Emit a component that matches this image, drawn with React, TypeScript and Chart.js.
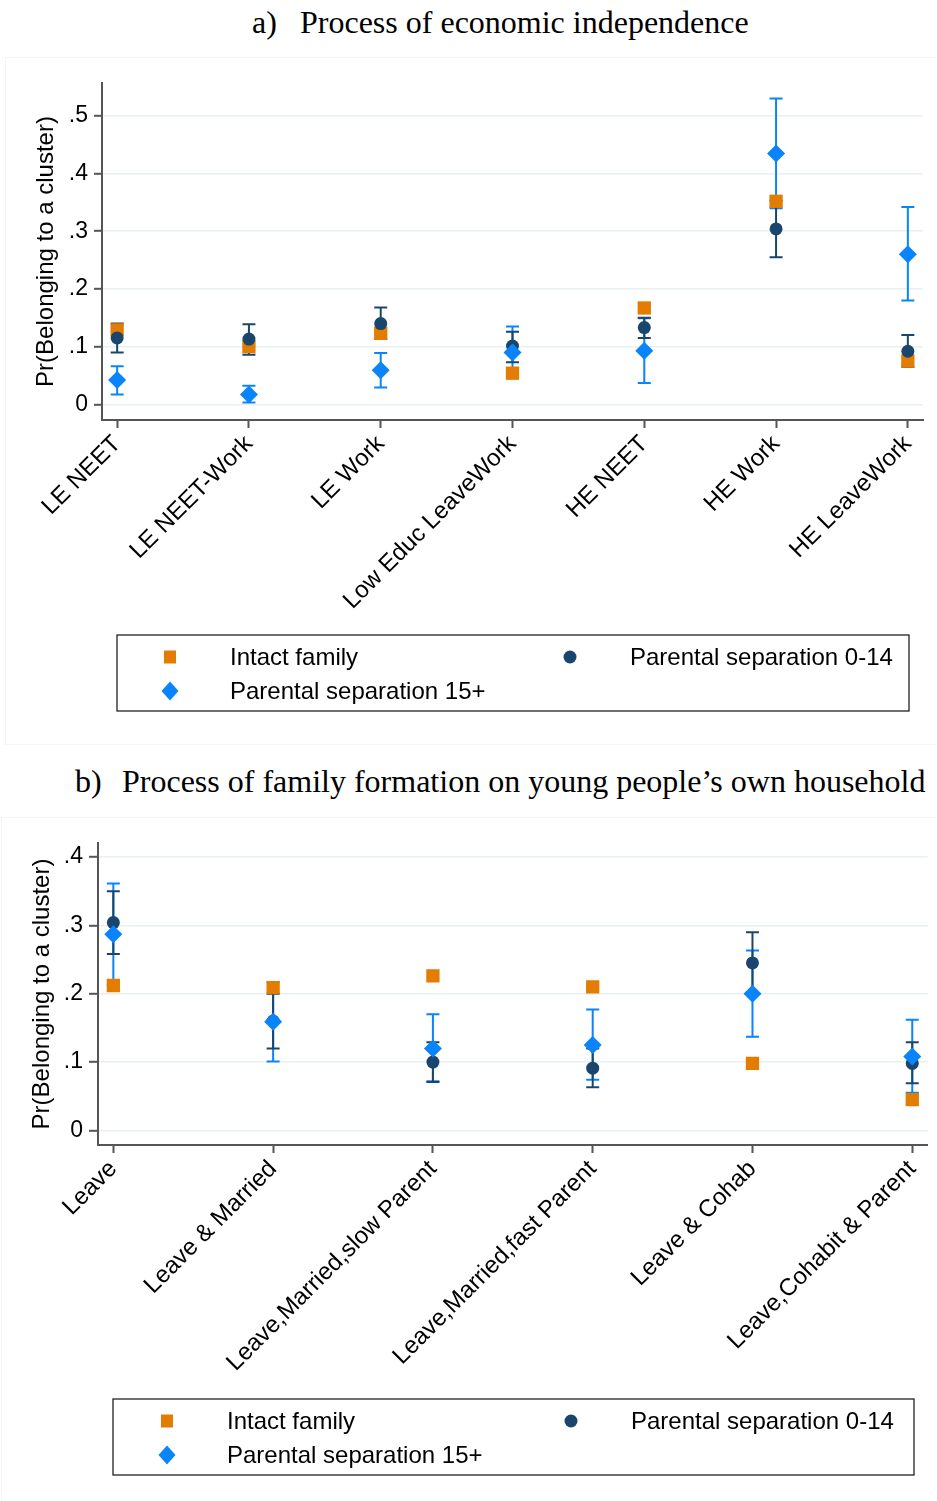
import React, { useEffect, useRef } from 'react';
import { Chart, registerables } from 'chart.js';

Chart.register(...registerables);

// ---------- Data: panel a) ----------
const catsA = ['LE NEET', 'LE NEET-Work', 'LE Work', 'Low Educ LeaveWork', 'HE NEET', 'HE Work', 'HE LeaveWork'];
const intactA = [0.129, 0.100, 0.123, 0.054, 0.167, 0.352, 0.075];
const sep014A = [0.115, 0.113, 0.140, 0.101, 0.133, 0.304, 0.092];
const sep014LoA = [0.090, 0.086, 0.113, 0.073, 0.115, 0.255, 0.065];
const sep014HiA = [0.140, 0.139, 0.168, 0.126, 0.150, 0.353, 0.120];
const sep15A = [0.042, 0.017, 0.059, 0.090, 0.093, 0.435, 0.260];
const sep15LoA = [0.017, 0.003, 0.029, 0.045, 0.037, 0.340, 0.180];
const sep15HiA = [0.066, 0.032, 0.089, 0.135, 0.149, 0.530, 0.342];
const yTicksA = [0, 0.1, 0.2, 0.3, 0.4, 0.5];
const yLabelsA = ['0', '.1', '.2', '.3', '.4', '.5'];

// ---------- Data: panel b) ----------
const catsB = ['Leave', 'Leave & Married', 'Leave,Married,slow Parent', 'Leave,Married,fast Parent', 'Leave & Cohab', 'Leave,Cohabit & Parent'];
const intactB = [0.212, 0.209, 0.226, 0.210, 0.098, 0.045];
const sep014B = [0.304, 0.160, 0.100, 0.091, 0.245, 0.098];
const sep014LoB = [0.258, 0.120, 0.071, 0.063, 0.200, 0.069];
const sep014HiB = [0.350, 0.200, 0.129, 0.120, 0.290, 0.129];
const sep15B = [0.287, 0.159, 0.120, 0.125, 0.200, 0.108];
const sep15LoB = [0.213, 0.101, 0.072, 0.074, 0.137, 0.055];
const sep15HiB = [0.361, 0.217, 0.170, 0.177, 0.263, 0.162];
const yTicksB = [0, 0.1, 0.2, 0.3, 0.4];
const yLabelsB = ['0', '.1', '.2', '.3', '.4'];

const seriesNames = ['Intact family', 'Parental separation 0-14', 'Parental separation 15+'];
const titleA = ['a)', 'Process of economic independence'];
const titleB = ['b)', 'Process of family formation on young people\u2019s own household'];
const yTitle = 'Pr(Belonging to a cluster)';

const ORANGE = '#e27d02';
const NAVY = '#1a466e';
const BLUE = '#0a84fb';
const SANS = "'Liberation Sans', Arial, sans-serif";
const SERIF = "'Liberation Serif', 'Times New Roman', serif";

function makeErrorBars(bars: { lo: number[]; hi: number[]; color: string }[]) {
  return {
    id: 'errbars',
    beforeDatasetsDraw(chart: any) {
      const { ctx } = chart;
      const xs = chart.scales.x;
      const ys = chart.scales.y;
      ctx.save();
      ctx.lineWidth = 2;
      for (const b of bars) {
        ctx.strokeStyle = b.color;
        b.lo.forEach((lo, i) => {
          const px = xs.getPixelForValue(i);
          const pl = ys.getPixelForValue(lo);
          const ph = ys.getPixelForValue(b.hi[i]);
          ctx.beginPath();
          ctx.moveTo(px, pl);
          ctx.lineTo(px, ph);
          ctx.moveTo(px - 6.5, pl);
          ctx.lineTo(px + 6.5, pl);
          ctx.moveTo(px - 6.5, ph);
          ctx.lineTo(px + 6.5, ph);
          ctx.stroke();
        });
      }
      ctx.restore();
    },
  };
}

function drawMarker(ctx: CanvasRenderingContext2D, kind: string, x: number, y: number, color: string) {
  ctx.fillStyle = color;
  ctx.beginPath();
  if (kind === 'rect') {
    ctx.rect(x - 6, y - 6.5, 12, 13);
  } else if (kind === 'circle') {
    ctx.arc(x, y, 6.5, 0, Math.PI * 2);
  } else {
    ctx.moveTo(x, y - 9.5);
    ctx.lineTo(x + 8.5, y);
    ctx.lineTo(x, y + 9.5);
    ctx.lineTo(x - 8.5, y);
    ctx.closePath();
  }
  ctx.fill();
}

function makeLegend(box: { l: number; t: number; r: number; b: number }, items: { kind: string; color: string; text: string; mx: number; tx: number; y: number }[]) {
  return {
    id: 'customLegend',
    afterDraw(chart: any) {
      const { ctx } = chart;
      ctx.save();
      ctx.strokeStyle = '#222';
      ctx.lineWidth = 1.3;
      ctx.strokeRect(box.l, box.t, box.r - box.l, box.b - box.t);
      ctx.font = `24px ${SANS}`;
      ctx.textBaseline = 'middle';
      ctx.textAlign = 'left';
      for (const it of items) {
        drawMarker(ctx, it.kind, it.mx, it.y, it.color);
        ctx.fillStyle = '#000';
        ctx.fillText(it.text, it.tx, it.y + 1);
      }
      ctx.restore();
    },
  };
}

function buildConfig(p: {
  cats: string[];
  intact: number[];
  s014: number[];
  s15: number[];
  lo014: number[];
  hi014: number[];
  lo15: number[];
  hi15: number[];
  yTicks: number[];
  yLabels: string[];
  xPad: number;
  yMin: number;
  yMax: number;
  top: number;
  right: number;
  yWidth: number;
  xHeight: number;
  titlePad: number;
  tickLen: number;
  legendBox: { l: number; t: number; r: number; b: number };
  legendItems: any[];
}) {
  const n = p.cats.length;
  const toPts = (arr: number[]) => arr.map((v, i) => ({ x: i, y: v }));
  return {
    type: 'scatter',
    data: {
      datasets: [
        { label: seriesNames[0], data: toPts(p.intact), pointStyle: 'rect', pointRadius: 9.4, backgroundColor: ORANGE, borderColor: ORANGE, borderWidth: 0, order: 3 },
        { label: seriesNames[1], data: toPts(p.s014), pointStyle: 'circle', pointRadius: 6.5, backgroundColor: NAVY, borderColor: NAVY, borderWidth: 0, order: 2 },
        { label: seriesNames[2], data: toPts(p.s15), pointStyle: 'rectRot', pointRadius: 9, backgroundColor: BLUE, borderColor: BLUE, borderWidth: 0, order: 1 },
      ],
    },
    options: {
      animation: false,
      responsive: false,
      devicePixelRatio: 1,
      layout: { padding: { top: p.top, right: p.right, left: 0, bottom: 0 } },
      plugins: { legend: { display: false }, tooltip: { enabled: false } },
      scales: {
        x: {
          type: 'linear',
          min: -p.xPad,
          max: n - 1 + p.xPad,
          afterBuildTicks: (s: any) => {
            s.ticks = p.cats.map((_, i) => ({ value: i }));
          },
          afterFit: (s: any) => {
            s.height = p.xHeight;
          },
          ticks: {
            callback: (_v: any, i: number) => p.cats[i],
            minRotation: 45,
            maxRotation: 45,
            autoSkip: false,
            color: '#000',
            padding: 2,
            font: { family: SANS, size: 24 },
          },
          grid: { drawOnChartArea: false, drawTicks: true, tickLength: 8, tickColor: '#555', tickWidth: 2 },
          border: { color: '#555', width: 2 },
        },
        y: {
          min: p.yMin,
          max: p.yMax,
          afterBuildTicks: (s: any) => {
            s.ticks = p.yTicks.map((v) => ({ value: v }));
          },
          afterFit: (s: any) => {
            s.width = p.yWidth;
          },
          ticks: {
            callback: (_v: any, i: number) => p.yLabels[i],
            color: '#000',
            padding: 6,
            font: { family: SANS, size: 23 },
          },
          grid: { color: '#e8f0f2', lineWidth: 1.6, drawTicks: true, tickLength: p.tickLen, tickColor: '#555', tickWidth: 2 },
          border: { color: '#555', width: 2 },
          title: {
            display: true,
            text: yTitle,
            color: '#000',
            font: { family: SANS, size: 24 },
            padding: { top: p.titlePad, bottom: 0 },
          },
        },
      },
    },
    plugins: [
      makeErrorBars([
        { lo: p.lo15, hi: p.hi15, color: BLUE },
        { lo: p.lo014, hi: p.hi014, color: NAVY },
      ]),
      makeLegend(p.legendBox, p.legendItems),
    ],
  };
}

function ChartCanvas({ config, width, height, top }: { config: any; width: number; height: number; top: number }) {
  const ref = useRef<HTMLCanvasElement | null>(null);
  useEffect(() => {
    if (!ref.current) return;
    const chart = new Chart(ref.current, config);
    return () => chart.destroy();
  }, [config]);
  return (
    <canvas
      ref={ref}
      width={width}
      height={height}
      style={{ position: 'absolute', left: 0, top, width, height }}
    />
  );
}

const configA = buildConfig({
  cats: catsA,
  intact: intactA,
  s014: sep014A,
  s15: sep15A,
  lo014: sep014LoA,
  hi014: sep014HiA,
  lo15: sep15LoA,
  hi15: sep15HiA,
  yTicks: yTicksA,
  yLabels: yLabelsA,
  xPad: 0.115,
  yMin: -0.0272,
  yMax: 0.557,
  top: 26,
  right: 14,
  yWidth: 102,
  xHeight: 325,
  titlePad: 32,
  tickLen: 8,
  legendBox: { l: 117, t: 578, r: 909, b: 654 },
  legendItems: [
    { kind: 'rect', color: ORANGE, text: seriesNames[0], mx: 170, tx: 230, y: 600 },
    { kind: 'circle', color: NAVY, text: seriesNames[1], mx: 570, tx: 630, y: 600 },
    { kind: 'diamond', color: BLUE, text: seriesNames[2], mx: 170, tx: 230, y: 634 },
  ],
});

const configB = buildConfig({
  cats: catsB,
  intact: intactB,
  s014: sep014B,
  s15: sep15B,
  lo014: sep014LoB,
  hi014: sep014HiB,
  lo15: sep15LoB,
  hi15: sep15HiB,
  yTicks: yTicksB,
  yLabels: yLabelsB,
  xPad: 0.096,
  yMin: -0.0213,
  yMax: 0.4204,
  top: 26,
  right: 9,
  yWidth: 98,
  xHeight: 356,
  titlePad: 28,
  tickLen: 9,
  legendBox: { l: 113, t: 582, r: 914, b: 658 },
  legendItems: [
    { kind: 'rect', color: ORANGE, text: seriesNames[0], mx: 167, tx: 227, y: 604 },
    { kind: 'circle', color: NAVY, text: seriesNames[1], mx: 571, tx: 631, y: 604 },
    { kind: 'diamond', color: BLUE, text: seriesNames[2], mx: 167, tx: 227, y: 638 },
  ],
});

const titleStyle: React.CSSProperties = {
  position: 'absolute',
  fontFamily: SERIF,
  fontSize: 32,
  lineHeight: '32px',
  color: '#000',
  whiteSpace: 'nowrap',
};

export default function App() {
  return (
    <div style={{ position: 'absolute', left: 0, top: 0, width: 937, height: 1501, background: '#fff', overflow: 'hidden' }}>
      <div style={{ position: 'absolute', left: 5, top: 57, width: 940, height: 688, border: '1px solid #f5f5f5', boxSizing: 'border-box' }} />
      <div style={{ position: 'absolute', left: 1, top: 817, width: 940, height: 700, border: '1px solid #f5f5f5', boxSizing: 'border-box' }} />
      <div style={{ ...titleStyle, left: 252, top: 6 }}>{titleA[0]}</div>
      <div style={{ ...titleStyle, left: 300, top: 6 }}>{titleA[1]}</div>
      <div style={{ ...titleStyle, left: 75, top: 765 }}>{titleB[0]}</div>
      <div style={{ ...titleStyle, left: 122, top: 765 }}>{titleB[1]}</div>
      <ChartCanvas config={configA} width={937} height={688} top={57} />
      <ChartCanvas config={configB} width={937} height={684} top={817} />
    </div>
  );
}
